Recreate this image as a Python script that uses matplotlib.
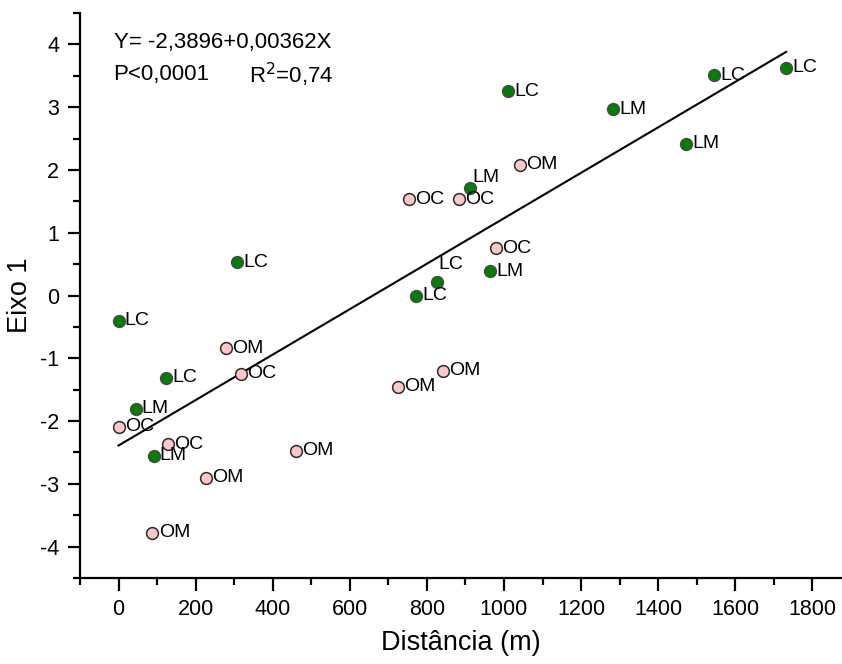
import numpy as np
import matplotlib
matplotlib.use('Agg')
import matplotlib.pyplot as plt

plt.rcParams['font.family'] = ['Liberation Sans', 'DejaVu Sans']

# green points (LC / LM)
lx = [0, 308, 124, 44, 91, 773, 826, 964, 911, 1010, 1283, 1472, 1544, 1731]
ly = [-0.40, 0.53, -1.31, -1.80, -2.55, 0.00, 0.21, 0.39, 1.71, 3.25, 2.97, 2.42, 3.51, 3.63]
lab_l = ['LC', 'LC', 'LC', 'LM', 'LM', 'LC', 'LC', 'LM', 'LM', 'LC', 'LM', 'LM', 'LC', 'LC']

# pink points (OC / OM)
ox = [0, 128, 88, 226, 279, 317, 461, 724, 841, 754, 883, 979, 1041]
oy = [-2.09, -2.37, -3.78, -2.90, -0.84, -1.25, -2.47, -1.45, -1.20, 1.53, 1.53, 0.75, 2.08]
lab_o = ['OC', 'OC', 'OM', 'OM', 'OM', 'OC', 'OM', 'OM', 'OM', 'OC', 'OC', 'OC', 'OM']

a, b = -2.3896, 0.00362

fig = plt.figure(figsize=(8.42, 6.64), dpi=100)
ax = fig.add_axes([80/842, 86/664, 762/842, 565/664])

xl = np.array([0, 1732])
ax.plot(xl, a + b*xl, color='black', lw=1.5, zorder=2)

ax.scatter(lx, ly, s=72, c='#007f00', edgecolors='#4a4a4a', linewidths=1.1, zorder=3)
ax.scatter(ox, oy, s=72, c='#ffc8c8', edgecolors='#2a2a2a', linewidths=1.1, zorder=3)

# label offsets in points (most are to the right of the marker)
def put(x, y, t):
    dx, dy = 4.5, 0
    if t == 'LC' and abs(x - 826) < 1:
        dx, dy = 1, 13
    if t == 'LM' and abs(x - 911) < 1:
        dx, dy = 2, 8
    ax.annotate(t, (x, y), xytext=(dx, dy), textcoords='offset points',
                ha='left', va='center', fontsize=14, zorder=4)

for x, y, t in zip(lx, ly, lab_l):
    put(x, y, t)
for x, y, t in zip(ox, oy, lab_o):
    put(x, y, t)

ax.text(0.044, 0.948, 'Y= -2,3896+0,00362X', transform=ax.transAxes, fontsize=16, va='center')
ax.text(0.044, 0.891, 'P<0,0001', transform=ax.transAxes, fontsize=16, va='center')
ax.text(0.222, 0.891, 'R$^2$=0,74', transform=ax.transAxes, fontsize=16, va='center')

ax.set_xlim(-100, 1877)
ax.set_ylim(-4.5, 4.5)
ax.set_xticks(np.arange(0, 1801, 200))
ax.set_xticks(np.arange(-100, 1877, 100), minor=True)
ax.set_yticks(np.arange(-4, 4.1, 1))
ax.set_yticks(np.arange(-4.5, 4.51, 0.5), minor=True)
ax.set_yticklabels(['-4', '-3', '-2', '-1', '0', '1', '2', '3', '4'])

for s in ['top', 'right']:
    ax.spines[s].set_visible(False)
for s in ['left', 'bottom']:
    ax.spines[s].set_linewidth(1.6)
ax.tick_params(which='major', direction='out', length=9, width=1.6, labelsize=15.5, pad=6)
ax.tick_params(which='minor', direction='out', length=5, width=1.6)

ax.set_xlabel('Distância (m)', fontsize=19.5, labelpad=7)
ax.set_ylabel('Eixo 1', fontsize=19.5, labelpad=5)

fig.savefig('out.png', dpi=100)
